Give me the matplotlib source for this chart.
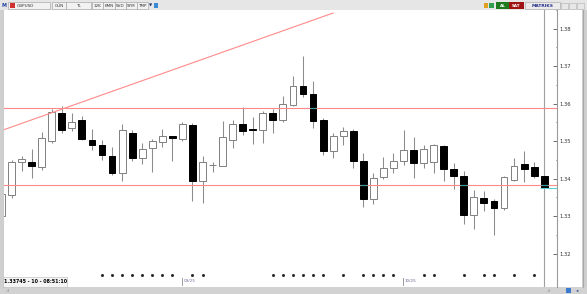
import matplotlib
matplotlib.use("Agg")
import numpy as np
import matplotlib.pyplot as plt
from matplotlib.patches import Rectangle
from matplotlib.transforms import blended_transform_factory

# GBPUSD daily candles
opens = [1.33008, 1.33561, 1.34455, 1.34455, 1.34305, 1.35016, 1.35753, 1.35350, 1.35579, 1.35042,
         1.34910, 1.34595, 1.34158, 1.35211, 1.34542, 1.34832, 1.34982, 1.35139, 1.35068, 1.35437,
         1.33929, 1.34358, 1.34350, 1.35042, 1.35463, 1.35316, 1.35305, 1.35745, 1.35560, 1.35974,
         1.36474, 1.36253, 1.35568, 1.34737, 1.35132, 1.35263, 1.34482, 1.33463, 1.34042, 1.34279,
         1.34474, 1.34763, 1.34411, 1.34437, 1.34876, 1.34253, 1.34061, 1.33034, 1.33489, 1.33403,
         1.33226, 1.33974, 1.34395, 1.34324, 1.34061]
highs = [1.33620, 1.34508, 1.34605, 1.34789, 1.35245, 1.35858, 1.35947, 1.35753, 1.35666, 1.35316,
         1.35026, 1.34850, 1.35463, 1.35289, 1.34955, 1.35068, 1.35324, 1.35153, 1.35508, 1.35489,
         1.34605, 1.34437, 1.35553, 1.35568, 1.35903, 1.35639, 1.35816, 1.35850, 1.36210, 1.36737,
         1.37263, 1.36605, 1.35613, 1.35226, 1.35376, 1.35316, 1.34674, 1.34166, 1.34587, 1.34674,
         1.35289, 1.35113, 1.34895, 1.34921, 1.34895, 1.34411, 1.34211, 1.33711, 1.33684, 1.33447,
         1.34061, 1.34561, 1.34737, 1.34455, 1.34061]
lows = [1.32980, 1.33489, 1.34211, 1.34016, 1.34237, 1.34955, 1.35226, 1.35263, 1.35026, 1.34779,
        1.34489, 1.34087, 1.33947, 1.34474, 1.34384, 1.34192, 1.34850, 1.34474, 1.35000, 1.33403,
        1.33358, 1.34174, 1.34337, 1.34824, 1.35174, 1.34937, 1.34955, 1.35226, 1.35508, 1.35929,
        1.36184, 1.35350, 1.34632, 1.34542, 1.34895, 1.34279, 1.33253, 1.33316, 1.34000, 1.34166,
        1.34368, 1.34016, 1.34279, 1.34166, 1.33929, 1.33737, 1.32805, 1.32658, 1.33139, 1.32508,
        1.33166, 1.33947, 1.33911, 1.34016, 1.33745]
closes = [1.33587, 1.34455, 1.34516, 1.34332, 1.35079, 1.35771, 1.35297, 1.35526, 1.35053, 1.34910,
          1.34632, 1.34158, 1.35289, 1.34542, 1.34789, 1.35016, 1.35132, 1.35079, 1.35463, 1.33929,
          1.34437, 1.34368, 1.35113, 1.35463, 1.35263, 1.35305, 1.35745, 1.35579, 1.35989, 1.36474,
          1.36253, 1.35534, 1.34737, 1.35139, 1.35263, 1.34482, 1.33463, 1.34016, 1.34279, 1.34482,
          1.34763, 1.34429, 1.34805, 1.34895, 1.34253, 1.34061, 1.33034, 1.33508, 1.33358, 1.33226,
          1.34042, 1.34342, 1.34263, 1.34079, 1.33745]

price_ticks = [1.32, 1.33, 1.34, 1.35, 1.36, 1.37, 1.38]
day_dots = [10, 11, 12, 13, 14, 15, 16, 17, 19, 20, 27, 28, 29, 30, 31, 32, 34, 36, 37, 38, 39,
            42, 43, 46, 48, 49, 51, 53]
month_marks = [18, 40]
month_labels = ["09/25", "10/25"]

levels = [1.35876, 1.33824]           # horizontal support / resistance
trend_x = [-1, 33]
trend_y = [1.3519, 1.3842]
info_text = "1.33745 - 10 - 08:51:10"

W, H = 587, 294
fig = plt.figure(figsize=(W / 100, H / 100), dpi=100)
fig.patch.set_facecolor("#d6d6d6")

# pixel-space overlays (background chrome and foreground labels)
bg = fig.add_axes([0, 0, 1, 1], zorder=0)
bg.set_xlim(0, W)
bg.set_ylim(H, 0)
bg.axis("off")

def box(a, x0, y0, x1, y1, fc, ec="none", lw=0.5):
    a.add_patch(Rectangle((x0, y0), x1 - x0, y1 - y0, facecolor=fc, edgecolor=ec, lw=lw))

# toolbar
box(bg, 0, 0, W, 10, "#e6e6e6")
grad = np.concatenate([np.linspace(0.58, 0.25, 60), np.linspace(0.25, 0.62, 60)])
bg.imshow(np.tile(grad, (4, 1)), cmap="gray", vmin=0, vmax=1, aspect="auto",
          extent=(160, 482, 9, 2), interpolation="bilinear")
bg.set_xlim(0, W)
bg.set_ylim(H, 0)
tool_items = [(8, 50, "GBPUSD"), (52, 66, "GÜN"), (66, 91, "TL"), (92, 103, "12K"),
              (103, 115, "KMN"), (115, 126, "SVD"), (126, 137, "SYM"), (137, 148, "TMP")]
for x0, x1, t in tool_items:
    box(bg, x0, 2, x1, 9, "#f2f2f2", "#9a9a9a", 0.4)
    bg.text(x0 + 9 if t == "GBPUSD" else (x0 + x1) / 2, 5.6, t, fontsize=3, color="#333333",
            ha="left" if t == "GBPUSD" else "center", va="center")
box(bg, 9.5, 3, 14.5, 8, "#d03030")
bg.text(4.5, 5.6, "M", fontsize=3.5, color="#2040a0", ha="center", va="center", weight="bold")
bg.text(150.5, 5.6, "▼", fontsize=3, color="#203060", ha="center", va="center")
box(bg, 154, 3, 158, 8, "#3a8ad8")
box(bg, 484, 3, 488, 8, "#e0a020")
box(bg, 489, 3, 494, 8, "#30a050")
box(bg, 496, 2, 509, 9, "#1f7a1f")
bg.text(502.5, 5.6, "AL", fontsize=3, color="white", ha="center", va="center", weight="bold")
box(bg, 509, 2, 524, 9, "#a01414")
bg.text(516.5, 5.6, "SAT", fontsize=3, color="white", ha="center", va="center", weight="bold")
box(bg, 525, 2, 560, 9, "#ececec", "#a0a0a0", 0.4)
bg.text(542.5, 5.6, "MATRIKS", fontsize=3.2, color="#26308a", ha="center", va="center", weight="bold")
for x0 in [561, 569, 577]:
    box(bg, x0, 2.5, x0 + 7, 8.5, "#e8e8e8", "#b0b0b0", 0.4)

# frame around the chart
box(bg, 0, 10, 4, 287, "#cfcfcf")
bg.plot([3.5, 3.5], [10, 287], color="#9c9c9c", lw=0.8)
box(bg, 557, 10, 582, 287, "white")
box(bg, 582, 10, W, 287, "#cfcfcf")
bg.plot([582.5, 582.5], [10, 287], color="#a8a8a8", lw=0.8)
box(bg, 0, 287, W, H, "#d2d2d2")
bg.text(548, 290.5, "..l", fontsize=3, color="#555555", ha="center", va="center")
box(bg, 566, 288, 571, 293, "#3a7ad0")
bg.text(578, 290.5, "◂▸", fontsize=3, color="#3a5a9a", ha="center", va="center")
bg.text(7, 290.5, "..l", fontsize=3, color="#555555", ha="center", va="center")

# main price axes
ax = fig.add_axes([4 / W, (H - 287) / H, (556.7 - 4) / W, (287 - 10) / H], zorder=1)
ax.set_facecolor("white")
n = len(opens)
idx = np.arange(n)
ax.set_xlim((4 - 1.5) / 10.05, (556.7 - 1.5) / 10.05)
ax.set_ylim(1.31113, 1.38403)

for s in ["left", "top", "bottom"]:
    ax.spines[s].set_visible(False)
ax.spines["right"].set_color("#9a9a9a")
ax.spines["right"].set_linewidth(0.8)
ax.set_xticks([])
ax.yaxis.tick_right()
ax.set_yticks(price_ticks)
ax.set_yticklabels([f"{v:.2f}" for v in price_ticks])
ax.set_yticks([v + 0.005 for v in price_ticks], minor=True)
ax.tick_params(axis="y", which="major", direction="in", length=3, width=0.6, color="#555555",
               labelsize=3.8, labelcolor="#333333", pad=2)
ax.tick_params(axis="y", which="minor", direction="in", length=1, width=0.6, color="#555555")

# crosshair at the last bar
ax.axvline(idx[-1], color="#a0a0a0", lw=0.8, zorder=1)

o = np.array(opens)
c = np.array(closes)
up = c >= o
ax.vlines(idx, lows, highs, color="#8c8c8c", lw=0.75, zorder=2)
body_lo = np.minimum(o, c)
body_h = np.maximum(np.abs(c - o), 0.00004)
ax.bar(idx[up], body_h[up], bottom=body_lo[up], width=0.68, color="white",
       edgecolor="#808080", lw=0.7, zorder=3)
ax.bar(idx[~up], body_h[~up], bottom=body_lo[~up], width=0.68, color="black",
       edgecolor="black", lw=0.7, zorder=3)

# drawn lines (XOR look: cyan where they cross black bodies)
for lv in levels:
    ax.axhline(lv, color="#ff8a8a", lw=0.8, zorder=4)
    hit = (~up) & (body_lo <= lv) & (body_lo + body_h >= lv)
    ax.hlines([lv] * hit.sum(), idx[hit] - 0.34, idx[hit] + 0.34, color="#2f9a9a", lw=0.8, zorder=5)
ax.plot(trend_x, trend_y, color="#ff8a8a", lw=0.8, zorder=4)
ax.hlines(closes[-1], idx[-1] - 0.4, ax.get_xlim()[1], color="#5fd0d0", lw=0.8, zorder=5)

# date strip along the bottom
tr = blended_transform_factory(ax.transData, ax.transAxes)
ax.plot(day_dots, [0.044] * len(day_dots), ls="none", marker="s", ms=1.0, color="#222222",
        transform=tr, clip_on=False, zorder=6)
for m, lab in zip(month_marks, month_labels):
    ax.plot([m - 0.05, m - 0.05], [0.006, 0.033], color="#8a8a8a", lw=0.6, transform=tr, zorder=6)
    ax.text(m + 0.1, 0.02, lab, fontsize=3, color="#6a6a9a", ha="left", va="center",
            transform=tr, zorder=6)

fg = fig.add_axes([0, 0, 1, 1], zorder=3)
fg.set_xlim(0, W)
fg.set_ylim(H, 0)
fg.axis("off")
fg.patch.set_alpha(0)
box(fg, 3, 277, 67, 286.5, "#f4f4f4", "#b8b8b8", 0.4)
fg.text(4.5, 281.8, info_text, fontsize=3.4, color="black", ha="left", va="center", weight="bold")

fig.savefig("out.png", dpi=100)
